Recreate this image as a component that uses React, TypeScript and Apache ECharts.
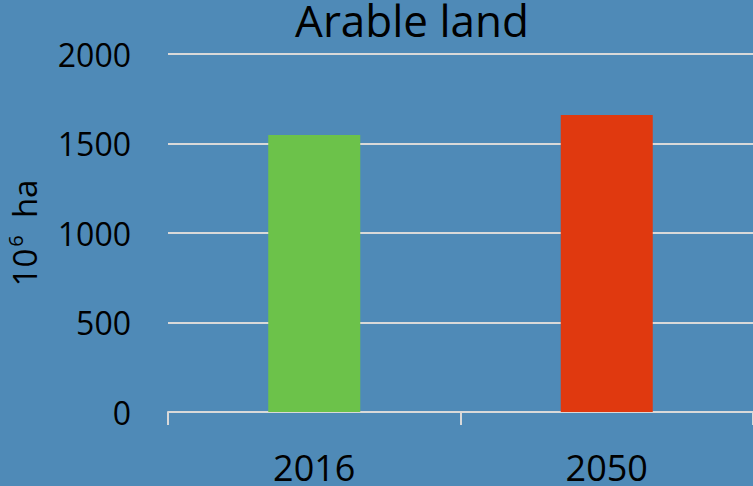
import React, { useEffect, useRef } from "react";
import * as echarts from "echarts";

const categories = ["2016", "2050"];
const values = [1547, 1659];
const barColors = ["#6CC24A", "#E0390F"];
const yTicks = [0, 500, 1000, 1500, 2000];

export default function App() {
  const ref = useRef<HTMLDivElement>(null);
  useEffect(() => {
    if (!ref.current) return;
    const chart = echarts.init(ref.current, null, { renderer: "svg" });
    const font = "'Open Sans', sans-serif";
    chart.setOption({
      animation: false,
      backgroundColor: "#4F8AB7",
      title: {
        text: "Arable land",
        left: 412,
        top: 0,
        padding: 0,
        textAlign: "center",
        textStyle: { fontFamily: font, fontSize: 44, fontWeight: "normal", color: "#000", lineHeight: 40 },
      },
      grid: { left: 168, right: 0, top: 54, bottom: 74, outerBoundsMode: "none", containLabel: false },
      xAxis: {
        type: "category",
        data: categories,
        boundaryGap: true,
        axisLine: { lineStyle: { color: "#D9D9D9", width: 2 } },
        axisTick: { show: true, length: 13, lineStyle: { color: "#D9D9D9", width: 2 } },
        axisLabel: { fontFamily: font, fontSize: 36, color: "#000", margin: 40, lineHeight: 30 },
      },
      yAxis: {
        type: "value",
        min: yTicks[0],
        max: yTicks[yTicks.length - 1],
        interval: 500,
        axisLine: { show: false },
        axisTick: { show: false },
        splitLine: { lineStyle: { color: "#D9D9D9", width: 2 } },
        axisLabel: {
          fontFamily: font,
          fontSize: 32,
          color: "#000",
          margin: 37,
          formatter: (v: number) => String(v),
        },
        name: "{a|10}{b|6}{a|  ha}",
        nameLocation: "middle",
        nameRotate: 90,
        nameGap: 124,
        nameTextStyle: {
          rich: {
            a: { fontFamily: font, fontSize: 33, color: "#000", lineHeight: 40 },
            b: { fontFamily: font, fontSize: 20, color: "#000", lineHeight: 40, padding: [0, 0, 18, 2] },
          },
        },
      },
      series: [
        {
          type: "bar",
          barWidth: 92,
          data: values.map((v, i) => ({ value: v, itemStyle: { color: barColors[i] } })),
        },
      ],
    });
    return () => chart.dispose();
  }, []);
  return <div ref={ref} style={{ width: 753, height: 486, position: "fixed", left: 0, top: 0 }} />;
}
